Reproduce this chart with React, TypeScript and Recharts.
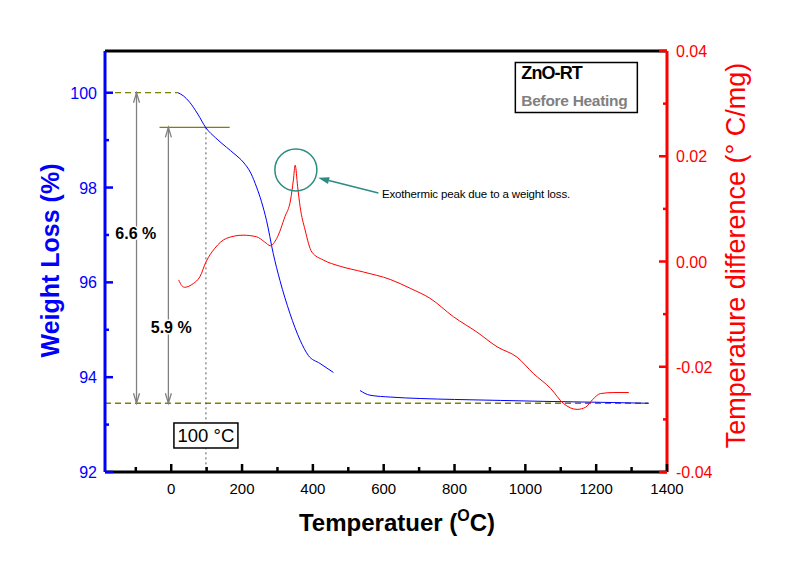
import React from "react";
import { ComposedChart, Line, XAxis, YAxis, ReferenceLine, ReferenceDot } from "recharts";

const FONT = "'Liberation Sans', Arial, Helvetica, sans-serif";
const BLUE = "#0000ff";
const RED = "#ff0000";
const OLIVE = "#808000";
const TEAL = "#2a8c82";
const GRAY = "#808080";

// TGA weight curve (left axis), null = break in the trace
const tgaTemp = [19, 35, 52, 75, 98, 125, 156, 180, 203, 225, 241, 255, 269, 288, 307, 335, 364, 387, 420, 458, 495, 533, 561, 620, 703, 800, 929, 1050, 1212, 1348];
const tgaWeight = [100.0, 99.93, 99.8, 99.55, 99.26, 99.05, 98.85, 98.7, 98.54, 98.3, 98.01, 97.7, 97.31, 96.61, 96.04, 95.35, 94.78, 94.46, 94.29, 94.1, null, 93.72, 93.62, 93.58, 93.55, 93.53, 93.51, 93.49, 93.47, 93.45];

// DTA temperature difference (right axis)
const dtaTemp = [21, 30, 38, 50, 62, 81, 98, 123, 156, 203, 241, 264, 280, 298, 321, 337, 345, 350, 357, 364, 378, 397, 429, 477, 543, 618, 675, 731, 797, 863, 920, 977, 1023, 1071, 1108, 1146, 1170, 1189, 1212, 1250, 1292];
const dtaValue = [-0.0035, -0.0046, -0.0049, -0.0047, -0.0042, -0.0029, -0.0001, 0.0025, 0.0044, 0.005, 0.0047, 0.0037, 0.003, 0.0044, 0.0085, 0.0117, 0.0155, 0.0183, 0.0142, 0.0104, 0.006, 0.0018, 0.0003, -0.0009, -0.002, -0.0034, -0.0051, -0.007, -0.0105, -0.0134, -0.0162, -0.0182, -0.0213, -0.0241, -0.027, -0.0281, -0.0277, -0.0263, -0.0251, -0.0249, -0.0249];

const xTicks = [-100, 0, 100, 200, 300, 400, 500, 600, 700, 800, 900, 1000, 1100, 1200, 1300, 1400];
const weightTicks = [92, 93, 94, 95, 96, 97, 98, 99, 100];
const dtaTicks = [-0.04, -0.03, -0.02, -0.01, 0, 0.01, 0.02, 0.03, 0.04];

const xDomain = [-187, 1400];
const weightDomain = [92, 100.88];
const dtaDomain = [-0.04, 0.04];

// annotation values
const startWeight = 100;
const weightAt100 = 99.27;
const finalWeight = 93.45;
const curveStart = 19;
const curveEnd = 1348;

const tgaData = tgaTemp.map((t, i) => ({ temp: t, weight: tgaWeight[i] }));
const dtaData = dtaTemp.map((t, i) => ({ temp: t, dta: dtaValue[i] }));

const LeftTick = (p: any) => {
  const v = p.payload.value;
  const major = v % 2 === 0;
  return (
    <g>
      <line x1={p.x} y1={p.y} x2={p.x + (major ? 8 : 4)} y2={p.y} stroke={BLUE} strokeWidth={2.5} />
      {major && (
        <text x={p.x - 8} y={p.y + 6} textAnchor="end" fill={BLUE} fontSize={16} fontFamily={FONT}>
          {v}
        </text>
      )}
    </g>
  );
};

const RightTick = (p: any) => {
  const k = Math.round(p.payload.value * 100);
  const major = k % 2 === 0;
  return (
    <g>
      <line x1={p.x} y1={p.y} x2={p.x - (major ? 8 : 4)} y2={p.y} stroke={RED} strokeWidth={2.5} />
      {major && (
        <text x={p.x + 9} y={p.y + 6} textAnchor="start" fill={RED} fontSize={16} fontFamily={FONT}>
          {(k / 100).toFixed(2)}
        </text>
      )}
    </g>
  );
};

const BottomTick = (p: any) => {
  const v = p.payload.value;
  const major = v >= 0 && v % 200 === 0;
  return (
    <g>
      <line x1={p.x} y1={p.y} x2={p.x} y2={p.y - (major ? 8 : 5)} stroke="#000" strokeWidth={2.5} />
      {major && (
        <text x={p.x} y={p.y + 22} textAnchor="middle" fill="#000" fontSize={15} fontFamily={FONT}>
          {v}
        </text>
      )}
    </g>
  );
};

const LeftTitle = (p: any) => {
  const vb = p.viewBox || { x: 40, y: 51, width: 65, height: 421 };
  const cx = vb.x + 19;
  const cy = vb.y + vb.height / 2 - 1;
  return (
    <text transform={`translate(${cx},${cy}) rotate(-90)`} textAnchor="middle" fill={BLUE} fontSize={25} fontWeight="bold" fontFamily={FONT}>
      Weight Loss (%)
    </text>
  );
};

const RightTitle = (p: any) => {
  const vb = p.viewBox || { x: 667, y: 51, width: 70, height: 421 };
  const cx = vb.x + 78;
  const cy = vb.y + vb.height / 2 - 6;
  return (
    <text transform={`translate(${cx},${cy}) rotate(-90)`} textAnchor="middle" fill={RED} fontSize={27} fontFamily={FONT}>
      Temperature difference (° C/mg)
    </text>
  );
};

const BottomTitle = (p: any) => {
  const vb = p.viewBox || { x: 105, y: 472, width: 562, height: 40 };
  const cx = vb.x + vb.width / 2 + 11;
  const cy = vb.y + 59;
  return (
    <text x={cx} y={cy} textAnchor="middle" fill="#000" fontSize={24} fontWeight="bold" fontFamily={FONT}>
      Temperatuer (<tspan fontSize={16} dy={-10}>O</tspan>
      <tspan dy={10}>C)</tspan>
    </text>
  );
};

const DoubleArrow = (p: any) => {
  const { x1, y1, x2, y2 } = p;
  const h = 10;
  const w = 3;
  return (
    <g stroke={GRAY} strokeWidth={1.3} fill="none">
      <line x1={x1} y1={y1} x2={x2} y2={y2} />
      <polyline points={`${x1 - w},${y1 + h} ${x1},${y1} ${x1 + w},${y1 + h}`} />
      <polyline points={`${x2 - w},${y2 - h} ${x2},${y2} ${x2 + w},${y2 - h}`} />
    </g>
  );
};

const TealArrow = (p: any) => {
  const { x1, y1, x2, y2 } = p;
  const dx = x2 - x1;
  const dy = y2 - y1;
  const len = Math.sqrt(dx * dx + dy * dy) || 1;
  const ux = dx / len;
  const uy = dy / len;
  const bx = x2 - ux * 11;
  const by = y2 - uy * 11;
  const hw = 3.5;
  return (
    <g>
      <line x1={x1} y1={y1} x2={bx} y2={by} stroke={TEAL} strokeWidth={1.5} />
      <polygon points={`${x2},${y2} ${bx - uy * hw},${by + ux * hw} ${bx + uy * hw},${by - ux * hw}`} fill={TEAL} />
    </g>
  );
};

const textMark = (text: string, size: number, bold = false, mask = false) => (p: any) => (
  <text
    x={p.cx}
    y={p.cy + size * 0.36}
    textAnchor="middle"
    fontSize={size}
    fontWeight={bold ? "bold" : "normal"}
    fontFamily={FONT}
    fill="#000"
    stroke={mask ? "#fff" : "none"}
    strokeWidth={mask ? 3 : 0}
    paintOrder="stroke"
  >
    {text}
  </text>
);

const NoteText = (p: any) => (
  <text x={p.cx} y={p.cy + 4} textAnchor="start" fontSize={11.5} letterSpacing={-0.15} fontFamily={FONT} fill="#000">
    Exothermic peak due to a weight loss.
  </text>
);

const TempBox = (p: any) => (
  <g>
    <rect x={p.cx - 32} y={p.cy - 12.5} width={64} height={25} fill="#fff" stroke="#000" strokeWidth={1.5} />
    <text x={p.cx} y={p.cy + 6.5} textAnchor="middle" fontSize={18.5} fontFamily={FONT} fill="#000">
      100 °C
    </text>
  </g>
);

const SampleBox = (p: any) => (
  <g>
    <rect x={p.cx - 61} y={p.cy - 25} width={122} height={50} fill="#fff" stroke="#000" strokeWidth={1.5} />
    <text x={p.cx - 55} y={p.cy - 9} fontSize={18} fontWeight="bold" fontFamily={FONT} fill="#000" letterSpacing={-0.9}>
      ZnO-RT
    </text>
    <text x={p.cx - 55} y={p.cy + 18} fontSize={15.5} fontWeight="bold" fontFamily={FONT} fill={GRAY} letterSpacing={-0.3}>
      Before Heating
    </text>
  </g>
);

export default function App() {
  return (
    <div style={{ position: "absolute", left: 0, top: 0, background: "#fff" }}>
      <ComposedChart width={810} height={572} margin={{ top: 51, right: 73, bottom: 60, left: 40 }}>
        <XAxis
          dataKey="temp"
          type="number"
          domain={xDomain}
          ticks={xTicks}
          interval={0}
          allowDataOverflow
          height={40}
          tickSize={0}
          tickMargin={0}
          tickLine={false}
          tick={BottomTick}
          axisLine={{ stroke: "#000", strokeWidth: 3 }}
          label={<BottomTitle />}
        />
        <YAxis
          yAxisId="left"
          orientation="left"
          type="number"
          domain={weightDomain}
          ticks={weightTicks}
          interval={0}
          allowDataOverflow
          width={65}
          tickSize={0}
          tickMargin={0}
          tickLine={false}
          tick={LeftTick}
          axisLine={{ stroke: BLUE, strokeWidth: 3 }}
          label={<LeftTitle />}
        />
        <YAxis
          yAxisId="right"
          orientation="right"
          type="number"
          domain={dtaDomain}
          ticks={dtaTicks}
          interval={0}
          allowDataOverflow
          width={70}
          tickSize={0}
          tickMargin={0}
          tickLine={false}
          tick={RightTick}
          axisLine={{ stroke: RED, strokeWidth: 3 }}
          label={<RightTitle />}
        />

        <ReferenceLine yAxisId="left" y={weightDomain[1]} stroke="#000" strokeWidth={3} ifOverflow="visible" />

        <ReferenceLine
          yAxisId="left"
          segment={[{ x: xDomain[0], y: startWeight }, { x: curveStart, y: startWeight }]}
          stroke={OLIVE}
          strokeWidth={1.3}
          strokeDasharray="6 4"
        />
        <ReferenceLine
          yAxisId="left"
          segment={[{ x: xDomain[0], y: finalWeight }, { x: curveEnd, y: finalWeight }]}
          stroke={OLIVE}
          strokeWidth={1.3}
          strokeDasharray="6 4"
        />
        <ReferenceLine
          yAxisId="left"
          segment={[{ x: -33, y: weightAt100 }, { x: 165, y: weightAt100 }]}
          stroke={OLIVE}
          strokeWidth={1.3}
        />
        <ReferenceLine
          yAxisId="left"
          segment={[{ x: 98, y: weightAt100 }, { x: 98, y: 92 }]}
          stroke="#555"
          strokeWidth={1}
          strokeDasharray="2 3"
        />
        <ReferenceLine
          yAxisId="left"
          segment={[{ x: -98, y: startWeight }, { x: -98, y: finalWeight }]}
          shape={DoubleArrow}
        />
        <ReferenceLine
          yAxisId="left"
          segment={[{ x: -8, y: weightAt100 }, { x: -8, y: finalWeight }]}
          shape={DoubleArrow}
        />

        <Line
          data={tgaData}
          yAxisId="left"
          dataKey="weight"
          type="monotone"
          stroke={BLUE}
          strokeWidth={1}
          dot={false}
          connectNulls={false}
          isAnimationActive={false}
        />
        <Line
          data={dtaData}
          yAxisId="right"
          dataKey="dta"
          type="monotone"
          stroke={RED}
          strokeWidth={1}
          dot={false}
          isAnimationActive={false}
        />

        <ReferenceDot yAxisId="left" x={-100} y={97.03} r={1} shape={textMark("6.6 %", 16, true, true)} />
        <ReferenceDot yAxisId="left" x={0} y={95.06} r={1} shape={textMark("5.9 %", 16, true, true)} />
        <ReferenceDot yAxisId="left" x={98} y={92.77} r={1} shape={TempBox} />
        <ReferenceDot yAxisId="left" x={1144} y={100.11} r={1} shape={SampleBox} />

        <ReferenceDot yAxisId="right" x={352} y={0.0174} r={21} fill="none" stroke={TEAL} strokeWidth={1.5} />
        <ReferenceLine
          yAxisId="right"
          segment={[{ x: 585, y: 0.013 }, { x: 415, y: 0.0159 }]}
          shape={TealArrow}
        />
        <ReferenceDot yAxisId="right" x={595} y={0.0129} r={1} shape={NoteText} />
      </ComposedChart>
    </div>
  );
}
